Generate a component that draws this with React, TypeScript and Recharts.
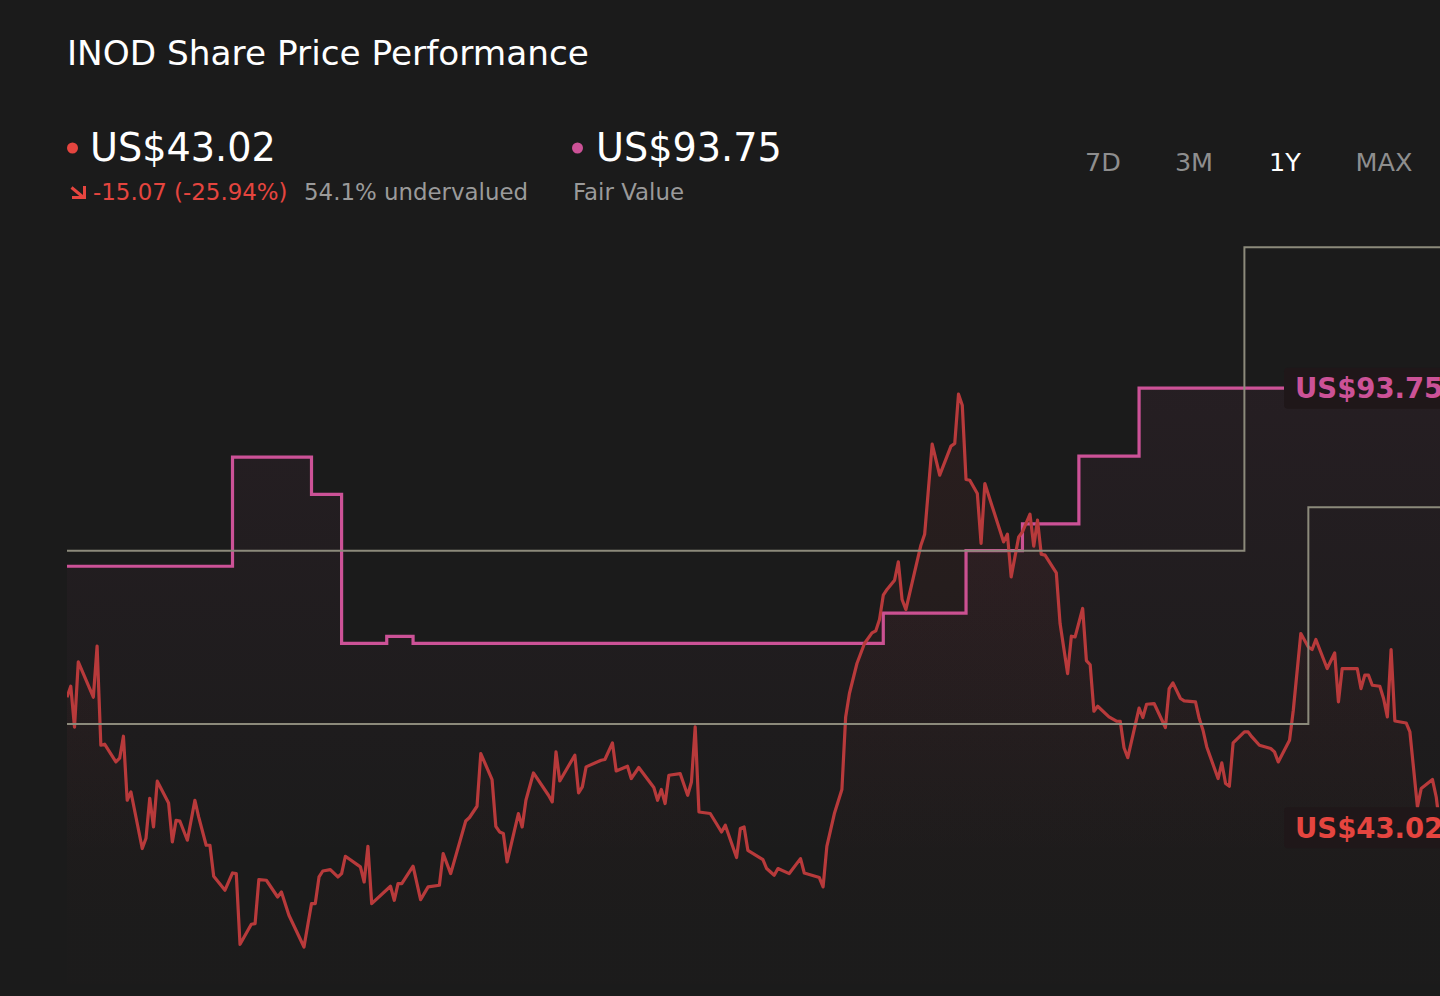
import { ComposedChart, Area, Line, XAxis, YAxis } from 'recharts';

// day offsets (0..365) and closing prices
const priceHistory: [number, number][] = [
  [0, 58.09], [1, 59.36], [2, 54.63], [3, 62.16], [7, 58.09], [8, 63.98], [9, 52.55], [10, 52.67],
  [13, 50.62], [14, 51.05], [15, 53.59], [16, 46.2], [17, 47.16], [20, 40.63], [21, 41.82], [22, 46.43],
  [23, 43.12], [24, 48.4], [27, 45.89], [28, 41.39], [29, 43.89], [30, 43.81], [32, 41.59], [34, 46.2],
  [35, 44.28], [37, 41.01], [38, 41.01], [39, 37.43], [42, 35.82], [44, 37.81], [45, 37.74], [46, 29.58],
  [49, 31.89], [50, 31.97], [51, 37.05], [53, 36.97], [56, 35.04], [57, 35.62], [59, 32.93], [63, 29.27],
  [65, 34.28], [66, 34.28], [67, 37.35], [68, 38.04], [70, 38.2], [72, 37.35], [73, 37.74], [74, 39.74],
  [78, 38.51], [79, 36.77], [80, 40.89], [81, 34.28], [86, 36.28], [87, 34.66], [88, 36.59], [89, 36.59],
  [92, 38.59], [94, 34.74], [96, 36.2], [99, 36.39], [100, 40.05], [102, 37.74], [106, 43.81], [107, 44.21],
  [109, 45.51], [110, 51.59], [113, 48.59], [114, 43.2], [115, 42.54], [116, 42.36], [117, 39.08], [120, 44.67],
  [121, 43.12], [122, 46.2], [124, 49.35], [128, 46.78], [129, 46.01], [130, 51.78], [131, 48.43], [135, 51.4],
  [136, 47.05], [137, 47.74], [138, 50.05], [142, 50.82], [143, 50.9], [145, 52.82], [146, 49.58], [149, 50.13],
  [150, 48.71], [152, 49.98], [156, 47.67], [157, 46.2], [158, 47.44], [159, 45.82], [160, 49.09], [163, 49.28],
  [165, 46.78], [166, 48.31], [167, 54.66], [168, 44.85], [171, 44.67], [174, 42.54], [175, 43.32], [178, 39.59],
  [179, 42.94], [180, 43.12], [181, 40.43], [185, 39.36], [186, 38.32], [188, 37.55], [189, 38.32], [192, 37.74],
  [195, 39.47], [196, 37.81], [200, 37.28], [201, 36.2], [202, 40.89], [204, 44.67], [206, 47.44], [207, 55.82],
  [208, 58.52], [210, 61.98], [212, 64.29], [214, 65.51], [215, 65.74], [216, 67.06], [217, 69.86], [218, 70.52],
  [220, 71.59], [221, 73.7], [222, 69.36], [223, 68.21], [227, 75.63], [228, 76.9], [230, 87.29], [232, 83.71],
  [235, 87.06], [236, 87.37], [237, 93.06], [238, 91.79], [239, 83.21], [240, 83.13], [242, 81.6], [243, 75.83],
  [244, 82.75], [246, 80.05], [249, 76.01], [250, 76.9], [251, 71.97], [253, 76.59], [254, 77.17], [256, 79.21],
  [257, 75.52], [258, 78.52], [259, 74.59], [260, 74.48], [263, 72.43], [264, 66.59], [266, 60.82], [267, 65.13],
  [268, 65.05], [270, 68.33], [271, 62.31], [272, 61.84], [273, 56.47], [274, 57.05], [277, 55.82], [279, 55.32],
  [280, 55.32], [281, 52.26], [282, 51.11], [285, 56.84], [286, 55.75], [287, 57.28], [289, 57.36], [292, 54.59],
  [293, 59.09], [294, 59.74], [296, 57.94], [297, 57.66], [300, 57.55], [301, 55.63], [302, 54.28], [303, 52.35],
  [306, 48.71], [307, 50.51], [308, 48.13], [309, 47.82], [310, 52.82], [313, 54.08], [314, 54.08], [315, 53.51],
  [317, 52.55], [320, 52.17], [321, 51.78], [322, 50.62], [325, 53.13], [326, 56.59], [328, 65.44], [330, 63.89],
  [331, 63.59], [332, 64.75], [335, 61.4], [337, 63.2], [338, 57.55], [339, 61.4], [343, 61.4], [344, 59.09],
  [345, 60.63], [346, 60.63], [347, 59.47], [349, 59.36], [350, 57.94], [351, 55.82], [352, 63.59], [353, 55.35],
  [356, 55.12], [357, 54.08], [359, 45.43], [360, 47.55], [363, 48.59], [364, 46.58], [365, 43.02],
];

// fair value estimate changes [day, value]
const fairValueSteps: [number, number][] = [
  [0, 73.2], [44, 85.8], [65, 81.5], [73, 64.3], [85, 65.1], [92, 64.3], [217, 67.8],
  [239, 75.0], [254, 78.1], [269, 85.9], [285, 93.75], [365, 93.75],
];

// analyst price target range [day, value]
const lowTargetSteps: [number, number][] = [[0, 55], [330, 80], [365, 80]];
const highTargetSteps: [number, number][] = [[0, 75], [313, 110], [365, 110]];

const rangeTabs = ['7D', '3M', '1Y', 'MAX'];
const activeTab = '1Y';

const lastPrice = 43.02;
const priceChange = -15.07;
const priceChangePct = -25.94;
const fairValue = 93.75;
const undervaluedPct = 54.1;

const FONT = '"DejaVu Sans", Verdana, sans-serif';
const BG = '#1b1b1b';
const RED = '#b83a3b';
const RED_TEXT = '#e5453f';
const PINK = '#cc5297';
const GREY_LINE = '#8c8a7b';

const toRows = (pairs: [number, number][]) => pairs.map(([day, value]) => ({ day, value }));

const priceRows = toRows(priceHistory);
const fairRows = toRows(fairValueSteps);
const lowRows = toRows(lowTargetSteps);
const highRows = toRows(highTargetSteps);

const endLabel = (color: string, text: string, lastIndex: number) => (props: any) => {
  if (props.index !== lastIndex) return null;
  const x = props.x ?? props.viewBox?.x;
  const y = props.y ?? props.viewBox?.y;
  return (
    <g>
      <rect x={x - 156} y={y - 20.5} width={170} height={41} rx={4} fill="#1f1719" />
      <text x={x - 145} y={y + 10} fill={color} fontSize={27.5} fontWeight="bold" fontFamily={FONT}>
        {text}
      </text>
    </g>
  );
};

const fmt = (v: number) => `US$${v.toFixed(2)}`;

function Header() {
  const tabX = [1103, 1194, 1285, 1384];
  return (
    <svg width={1440} height={240} style={{ position: 'absolute', left: 0, top: 0 }}>
      <text x={67} y={65} fill="#ffffff" fontSize={34.3} fontFamily={FONT}>
        INOD Share Price Performance
      </text>

      <circle cx={72.5} cy={148} r={5.5} fill={RED_TEXT} />
      <text x={90} y={161} fill="#ffffff" fontSize={38.2} fontFamily={FONT}>
        {fmt(lastPrice)}
      </text>
      <g stroke={RED_TEXT} strokeWidth={3} fill="none">
        <line x1={71.5} y1={187.5} x2={83} y2={197} />
        <polyline points="72,197.5 84.5,197.5 84.5,186" />
      </g>
      <text x={93} y={200} fill={RED_TEXT} fontSize={22.9} fontFamily={FONT}>
        {`${priceChange.toFixed(2)} (${priceChangePct.toFixed(2)}%)`}
      </text>
      <text x={304} y={200} fill="#9a9a9a" fontSize={22.9} fontFamily={FONT}>
        {`${undervaluedPct}% undervalued`}
      </text>

      <circle cx={577.5} cy={148} r={5.5} fill={PINK} />
      <text x={596} y={161} fill="#ffffff" fontSize={38.2} fontFamily={FONT}>
        {fmt(fairValue)}
      </text>
      <text x={573} y={200} fill="#9a9a9a" fontSize={22.9} fontFamily={FONT}>
        Fair Value
      </text>

      {rangeTabs.map((t, i) => (
        <text
          key={t}
          x={tabX[i]}
          y={171}
          textAnchor="middle"
          fill={t === activeTab ? '#ffffff' : '#8e8e8e'}
          fontSize={25.5}
          fontFamily={FONT}
        >
          {t}
        </text>
      ))}
    </svg>
  );
}

export default function App() {
  return (
    <div
      style={{
        position: 'fixed',
        left: 0,
        top: 0,
        width: 1440,
        height: 996,
        background: BG,
        overflow: 'hidden',
        fontFamily: FONT,
      }}
    >
      <Header />
      <div style={{ position: 'absolute', left: 67, top: 204 }}>
        <ComposedChart width={1373} height={780} margin={{ top: 0, right: 0, bottom: 0, left: 0 }}>
          <defs>
            <linearGradient id="priceFill" x1="0" y1="0" x2="0" y2="1">
              <stop offset="0%" stopColor={RED} stopOpacity={0.16} />
              <stop offset="90%" stopColor={RED} stopOpacity={0.01} />
            </linearGradient>
            <linearGradient id="fairFill" x1="0" y1="0" x2="0" y2="1">
              <stop offset="0%" stopColor={PINK} stopOpacity={0.1} />
              <stop offset="80%" stopColor={PINK} stopOpacity={0} />
            </linearGradient>
          </defs>
          <XAxis type="number" dataKey="day" domain={[0, 365]} hide allowDuplicatedCategory={false} />
          <YAxis type="number" domain={[25, 115]} hide />
          <Line
            data={highRows}
            dataKey="value"
            type="stepAfter"
            stroke={GREY_LINE}
            strokeWidth={2}
            dot={false}
            activeDot={false}
            isAnimationActive={false}
          />
          <Line
            data={lowRows}
            dataKey="value"
            type="stepAfter"
            stroke={GREY_LINE}
            strokeWidth={2}
            dot={false}
            activeDot={false}
            isAnimationActive={false}
          />
          <Area
            data={fairRows}
            dataKey="value"
            type="stepAfter"
            stroke={PINK}
            strokeWidth={3.2}
            fill="url(#fairFill)"
            dot={false}
            activeDot={false}
            isAnimationActive={false}
            label={endLabel(PINK, fmt(fairValue), fairRows.length - 1)}
          />
          <Area
            data={priceRows}
            dataKey="value"
            type="linear"
            stroke={RED}
            strokeWidth={3.2}
            strokeLinejoin="round"
            fill="url(#priceFill)"
            dot={false}
            activeDot={false}
            isAnimationActive={false}
            label={endLabel(RED_TEXT, fmt(lastPrice), priceRows.length - 1)}
          />
        </ComposedChart>
      </div>
    </div>
  );
}
